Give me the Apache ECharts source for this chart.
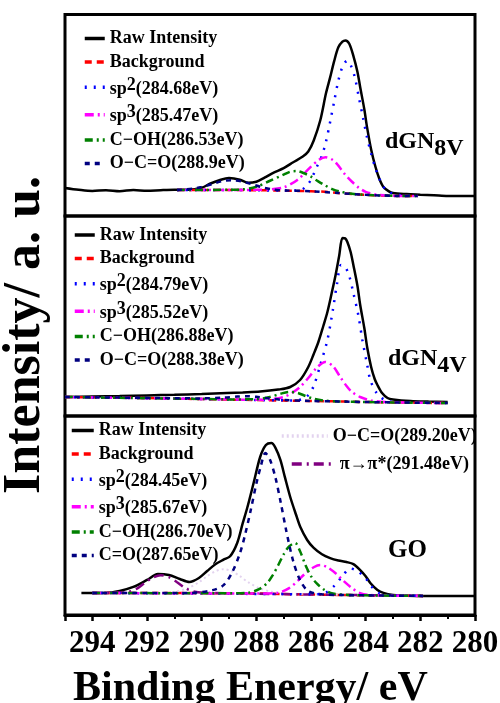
<html>
<head>
    <meta charset="utf-8">
    <title>C1s XPS - dGN8V / dGN4V / GO</title>
    <style>
        body { margin: 0; background: #fff; }
    </style>
</head>
<body>
<div id="xpsChart" style="width: 500px; height: 703px;"></div>
<script type="text/javascript" src="https://cdn.jsdelivr.net/npm/echarts@6/dist/echarts.min.js"></script>
<script type="text/javascript">
    // binding energy axis (eV), reversed
    var energyMin = 280;
    var energyMax = 295;
    var energyStep = 2;

    // ---- dGN8V : [eV, intensity a.u.] ----
    var raw8 = [[295.0, 13.9], [294.5, 13.0], [294.0, 12.4], [293.5, 12.8], [293.0, 12.3], [292.5, 12.9], [292.0, 12.5], [291.5, 12.8], [291.0, 13.0], [290.5, 13.0], [290.0, 14.0], [289.7, 16.0], [289.3, 18.0], [289.0, 18.8], [288.6, 18.0], [288.3, 16.5], [288.0, 17.0], [287.7, 19.0], [287.4, 21.3], [287.0, 23.8], [286.65, 26.7], [286.3, 29.5], [286.1, 32.0], [285.9, 37.5], [285.66, 47.5], [285.45, 61.0], [285.3, 68.8], [285.15, 77.0], [285.0, 83.7], [284.85, 86.5], [284.74, 87.1], [284.6, 85.5], [284.45, 79.5], [284.3, 71.5], [284.2, 63.9], [284.05, 53.0], [283.95, 44.1], [283.8, 33.0], [283.64, 24.3], [283.5, 18.5], [283.35, 14.4], [283.15, 12.2], [283.0, 11.4], [282.5, 10.9], [282.0, 10.6], [281.5, 10.3], [281.0, 9.9], [280.0, 9.9]];
    var bg8 = [[290.9, 12.9], [289.0, 12.9], [288.0, 12.8], [287.0, 12.6], [286.0, 12.3], [285.5, 12.0], [285.0, 11.4], [284.5, 10.9], [284.0, 10.5], [283.5, 10.2], [283.0, 10.0], [282.1, 9.9]];
    var sp2_8 = [[290.9, 12.9], [289.0, 12.9], [287.0, 12.6], [286.4, 12.8], [286.1, 16.0], [285.95, 19.5], [285.8, 24.0], [285.6, 30.0], [285.45, 37.0], [285.3, 46.7], [285.15, 57.0], [285.0, 67.1], [284.85, 74.0], [284.68, 77.0], [284.55, 75.0], [284.4, 69.0], [284.25, 59.0], [284.1, 49.0], [283.95, 39.0], [283.8, 31.0], [283.65, 24.0], [283.5, 18.5], [283.35, 14.5], [283.2, 12.5], [283.0, 11.0], [282.6, 10.2], [282.1, 9.9]];
    var sp3_8 = [[290.9, 12.9], [288.5, 12.9], [288.0, 13.0], [287.5, 13.2], [287.0, 14.2], [286.5, 17.9], [286.0, 24.5], [285.7, 28.0], [285.47, 29.2], [285.2, 27.8], [285.0, 25.0], [284.75, 20.5], [284.5, 17.0], [284.25, 14.0], [284.0, 12.0], [283.6, 10.6], [283.0, 10.0], [282.1, 9.9]];
    var coh8 = [[290.9, 12.9], [289.0, 13.0], [288.5, 13.2], [288.0, 14.5], [287.5, 17.5], [287.0, 20.5], [286.75, 22.0], [286.53, 22.3], [286.25, 21.2], [286.0, 19.5], [285.75, 17.3], [285.5, 15.3], [285.2, 13.2], [284.9, 12.0], [284.5, 11.0], [284.0, 10.5], [283.0, 10.0], [282.1, 9.9]];
    var oco8 = [[290.9, 12.9], [290.3, 13.6], [290.0, 14.4], [289.6, 15.9], [289.25, 17.3], [288.9, 17.8], [288.55, 17.2], [288.2, 15.9], [287.8, 14.3], [287.4, 13.2], [287.0, 12.7], [286.0, 12.3], [285.0, 11.4], [284.0, 10.5], [283.0, 10.0], [282.1, 9.9]];

    // ---- dGN4V ----
    var raw4 = [[295.0, 9.5], [294.0, 9.8], [293.0, 10.0], [292.0, 10.3], [291.0, 10.6], [290.0, 11.0], [289.07, 11.5], [288.5, 11.8], [287.86, 12.2], [287.2, 13.2], [286.76, 14.5], [286.4, 18.0], [286.1, 24.5], [285.9, 31.0], [285.73, 37.0], [285.55, 45.0], [285.4, 52.0], [285.25, 61.0], [285.1, 70.5], [284.97, 80.0], [284.85, 89.0], [284.75, 88.8], [284.67, 87.0], [284.55, 82.0], [284.45, 75.5], [284.3, 65.0], [284.2, 55.5], [284.05, 44.0], [283.94, 34.0], [283.8, 24.5], [283.67, 18.5], [283.57, 15.5], [283.4, 11.5], [283.2, 9.0], [283.0, 8.3], [282.36, 7.5], [281.7, 7.2], [281.0, 7.0]];
    var bg4 = [[295.0, 9.5], [293.5, 9.2], [292.0, 9.0], [290.5, 8.6], [289.0, 8.2], [288.0, 8.0], [287.0, 7.7], [286.0, 7.5], [285.0, 7.3], [284.0, 7.0], [283.0, 6.8], [282.0, 6.6], [281.0, 6.5]];
    var sp2_4 = [[295.0, 9.5], [290.0, 8.5], [288.0, 8.0], [286.6, 7.8], [286.3, 8.5], [286.1, 10.5], [285.9, 15.0], [285.65, 26.0], [285.4, 38.0], [285.2, 53.0], [285.05, 66.0], [284.9, 75.5], [284.75, 74.5], [284.6, 70.0], [284.45, 61.5], [284.27, 50.5], [284.12, 38.0], [283.95, 26.0], [283.83, 18.0], [283.6, 11.5], [283.3, 8.0], [283.0, 7.0], [282.0, 6.6], [281.0, 6.5]];
    var sp3_4 = [[295.0, 9.5], [290.0, 8.5], [289.0, 8.3], [288.0, 8.1], [287.5, 8.3], [287.0, 9.5], [286.7, 11.5], [286.4, 14.5], [286.1, 19.0], [285.8, 24.0], [285.48, 27.0], [285.2, 25.0], [284.93, 19.5], [284.7, 15.0], [284.5, 12.0], [284.2, 9.5], [283.8, 7.8], [283.2, 7.0], [282.0, 6.6], [281.0, 6.5]];
    var coh4 = [[295.0, 9.5], [290.0, 8.5], [289.0, 8.3], [288.0, 8.4], [287.5, 9.5], [287.1, 11.2], [286.8, 12.0], [286.5, 11.6], [286.2, 10.0], [285.9, 8.6], [285.5, 7.7], [285.0, 7.3], [284.0, 7.0], [283.0, 6.8], [281.0, 6.5]];
    var oco4 = [[295.0, 9.5], [291.0, 8.9], [290.0, 8.8], [289.2, 9.2], [288.7, 9.7], [288.38, 9.9], [288.0, 9.6], [287.6, 8.9], [287.0, 8.0], [286.0, 7.5], [285.0, 7.3], [284.0, 7.0], [283.0, 6.8], [281.0, 6.5]];

    // ---- GO ----
    var rawGO = [[294.4, 11.1], [293.5, 11.1], [293.0, 12.1], [292.5, 14.1], [292.0, 17.6], [291.6, 20.6], [291.2, 20.1], [290.8, 18.1], [290.45, 16.6], [290.1, 18.6], [289.8, 22.1], [289.5, 25.5], [289.2, 27.8], [288.96, 29.5], [288.7, 36.2], [288.5, 46.0], [288.33, 54.0], [288.1, 66.3], [287.86, 79.4], [287.65, 85.4], [287.45, 86.4], [287.3, 84.0], [287.12, 77.9], [286.95, 69.0], [286.76, 59.3], [286.55, 50.5], [286.39, 44.2], [286.14, 37.7], [285.9, 33.7], [285.6, 30.5], [285.3, 28.6], [285.0, 27.4], [284.7, 26.6], [284.45, 25.6], [284.2, 22.6], [284.0, 19.5], [283.83, 16.1], [283.57, 12.6], [283.35, 11.1], [283.0, 10.1], [282.5, 9.7], [281.0, 9.5], [280.0, 9.5]];
    var bgGO = [[294.0, 11.1], [292.0, 11.1], [290.0, 11.0], [288.0, 10.8], [287.0, 10.5], [286.0, 10.3], [285.0, 10.1], [284.0, 9.9], [283.0, 9.7], [281.9, 9.6]];
    var sp2GO = [[294.0, 11.1], [287.0, 10.5], [286.0, 10.4], [285.5, 11.0], [285.2, 14.0], [285.0, 17.0], [284.8, 20.5], [284.56, 23.4], [284.3, 22.0], [284.0, 18.5], [283.8, 14.5], [283.5, 11.0], [283.2, 10.0], [281.9, 9.6]];
    var sp3GO = [[294.0, 11.1], [288.0, 10.8], [287.2, 11.2], [286.8, 13.5], [286.5, 17.0], [286.2, 21.0], [285.9, 24.0], [285.66, 25.1], [285.4, 24.0], [285.1, 21.0], [284.8, 17.0], [284.5, 13.5], [284.2, 11.0], [283.8, 10.0], [281.9, 9.6]];
    var cohGO = [[294.0, 11.1], [289.0, 10.9], [288.3, 11.2], [287.9, 13.0], [287.6, 16.1], [287.4, 20.0], [287.2, 25.0], [287.0, 30.5], [286.8, 34.5], [286.58, 36.2], [286.4, 32.0], [286.2, 25.0], [286.0, 19.5], [285.8, 16.0], [285.5, 12.5], [285.2, 10.8], [284.5, 10.0], [281.9, 9.6]];
    var coGO = [[294.0, 11.1], [290.5, 11.0], [289.6, 12.5], [289.2, 15.0], [288.9, 21.0], [288.6, 31.0], [288.4, 41.0], [288.2, 53.0], [288.0, 66.0], [287.85, 74.0], [287.67, 81.4], [287.5, 78.0], [287.3, 69.0], [287.1, 56.0], [286.9, 42.0], [286.65, 27.0], [286.4, 17.5], [286.1, 12.0], [285.6, 10.4], [284.0, 9.9], [281.9, 9.6]];
    var ocoGO = [[294.0, 11.1], [291.5, 11.1], [291.0, 11.6], [290.5, 13.5], [290.1, 16.5], [289.8, 19.5], [289.5, 22.0], [289.2, 23.0], [288.9, 22.0], [288.6, 19.5], [288.3, 16.5], [287.9, 13.5], [287.4, 11.6], [286.8, 10.7], [281.9, 9.6]];
    var piGO = [[294.0, 11.1], [292.8, 11.3], [292.4, 13.0], [292.1, 16.0], [291.8, 18.7], [291.5, 20.0], [291.2, 19.0], [290.9, 16.5], [290.6, 13.5], [290.3, 11.8], [289.8, 11.1], [281.9, 9.6]];

    var font = "'Liberation Serif', 'Times New Roman', serif";

    var sty = {
        raw:  { color: '#000000', width: 2.5, type: 'solid' },
        bg:   { color: '#ff0000', width: 2.5, type: [7, 5] },
        sp2:  { color: '#0000ff', width: 2.5, type: [2, 7] },
        sp3:  { color: '#ff00ff', width: 2.5, type: [9, 4, 2, 4] },
        coh:  { color: '#008000', width: 2.5, type: [8, 4, 2, 4] },
        navy: { color: '#000080', width: 2.5, type: [5, 5] },
        oco:  { color: '#e3d3ef', width: 2, type: [2, 3] },
        pi:   { color: '#800080', width: 2.5, type: [10, 5, 2, 5] }
    };

    function line(name, data, idx, s) {
        return {
            name: name,
            type: 'line',
            xAxisIndex: idx,
            yAxisIndex: idx,
            data: data,
            symbol: 'none',
            showSymbol: false,
            smooth: 0.3,
            silent: true,
            animation: false,
            color: s.color,
            lineStyle: { color: s.color, width: s.width, type: s.type }
        };
    }

    // sp2 / sp3 get a raised digit
    function fmtName(name) {
        var m = name.match(/^sp(\d)(.*)$/);
        if (m) {
            return '{t|sp}{s|' + m[1] + '}{t|' + m[2] + '}';
        }
        return '{t|' + name + '}';
    }

    var legendRich = {
        t: { fontFamily: font, fontWeight: 'bold', fontSize: 18, color: '#000', verticalAlign: 'bottom' },
        s: { fontFamily: font, fontWeight: 'bold', fontSize: 18, color: '#000', verticalAlign: 'top', padding: [0, 0, 4, 0] }
    };

    function legendBox(names, left, top, w) {
        return {
            orient: 'vertical',
            left: left,
            top: top,
            padding: 0,
            itemWidth: w,
            itemHeight: 14,
            itemGap: 5.4,
            selectedMode: false,
            data: names,
            formatter: fmtName,
            textStyle: { fontFamily: font, fontWeight: 'bold', fontSize: 18, color: '#000', rich: legendRich },
            itemStyle: { opacity: 0, borderWidth: 0 },
            lineStyle: { width: 3.5 }
        };
    }

    function grid(top, height) {
        return {
            left: 65, top: top, width: 410, height: height,
            show: true, borderColor: '#000', borderWidth: 3,
            backgroundColor: 'transparent',
            containLabel: false, outerBoundsMode: 'none'
        };
    }

    function xAx(idx, shown) {
        return {
            type: 'value',
            gridIndex: idx,
            min: energyMin,
            max: energyMax,
            interval: energyStep,
            inverse: true,
            axisLine: { show: shown, lineStyle: { color: '#000', width: 3 } },
            axisTick: { show: shown, inside: false, length: 6, lineStyle: { color: '#000', width: 2.5 } },
            minorTick: { show: shown, splitNumber: 2, length: 4, lineStyle: { color: '#000', width: 2 } },
            axisLabel: {
                show: shown, margin: 13, color: '#000',
                fontFamily: font, fontWeight: 'bold', fontSize: 31
            },
            splitLine: { show: false },
            minorSplitLine: { show: false }
        };
    }

    function yAx(idx) {
        return { type: 'value', gridIndex: idx, min: 0, max: 100, show: false, splitLine: { show: false } };
    }

    var panelRich = {
        a: { fontFamily: font, fontWeight: 'bold', fontSize: 24, color: '#000', verticalAlign: 'top' },
        b: { fontFamily: font, fontWeight: 'bold', fontSize: 24, color: '#000', verticalAlign: 'bottom', padding: [7, 0, 0, 0] }
    };

    var myChart = echarts.init(document.getElementById('xpsChart'), null, { renderer: 'canvas' });
    var option = {
        backgroundColor: '#ffffff',
        animation: false,
        grid: [grid(14.5, 201.5), grid(216, 200), grid(416, 199)],
        xAxis: [xAx(0, false), xAx(1, false), xAx(2, true)],
        yAxis: [yAx(0), yAx(1), yAx(2)],
        legend: [
            legendBox(['Raw Intensity', 'Background', 'sp2(284.68eV)', 'sp3(285.47eV)', 'C−OH(286.53eV)', 'O−C=O(288.9eV)'], 83, 29.5, 20),
            legendBox(['Raw Intensity', 'Background', 'sp2(284.79eV)', 'sp3(285.52eV)', 'C−OH(286.88eV)', 'O−C=O(288.38eV)'], 73, 226, 20),
            legendBox(['Raw Intensity', 'Background', 'sp2(284.45eV)', 'sp3(285.67eV)', 'C−OH(286.70eV)', 'C=O(287.65eV)'], 70, 421.5, 22),
            legendBox(['O−C=O(289.20eV)'], 280, 427, 46),
            legendBox(['π→π*(291.48eV)'], 290, 455, 43)
        ],
        series: [
            line('Raw Intensity', raw8, 0, sty.raw),
            line('Background', bg8, 0, sty.bg),
            line('sp2(284.68eV)', sp2_8, 0, sty.sp2),
            line('sp3(285.47eV)', sp3_8, 0, sty.sp3),
            line('C−OH(286.53eV)', coh8, 0, sty.coh),
            line('O−C=O(288.9eV)', oco8, 0, sty.navy),

            line('Raw Intensity', raw4, 1, sty.raw),
            line('Background', bg4, 1, sty.bg),
            line('sp2(284.79eV)', sp2_4, 1, sty.sp2),
            line('sp3(285.52eV)', sp3_4, 1, sty.sp3),
            line('C−OH(286.88eV)', coh4, 1, sty.coh),
            line('O−C=O(288.38eV)', oco4, 1, sty.navy),

            line('Raw Intensity', rawGO, 2, sty.raw),
            line('Background', bgGO, 2, sty.bg),
            line('O−C=O(289.20eV)', ocoGO, 2, sty.oco),
            line('π→π*(291.48eV)', piGO, 2, sty.pi),
            line('sp2(284.45eV)', sp2GO, 2, sty.sp2),
            line('sp3(285.67eV)', sp3GO, 2, sty.sp3),
            line('C−OH(286.70eV)', cohGO, 2, sty.coh),
            line('C=O(287.65eV)', coGO, 2, sty.navy)
        ],
        graphic: [
            { type: 'text', x: 385, y: 130, style: { text: '{a|dGN}{b|8V}', rich: panelRich } },
            { type: 'text', x: 388, y: 347, style: { text: '{a|dGN}{b|4V}', rich: panelRich } },
            { type: 'text', x: 388, y: 538, style: { text: 'GO', fontFamily: font, fontWeight: 'bold', fontSize: 25, fill: '#000' } },
            {
                type: 'text', x: 26, y: 335, rotation: Math.PI / 2,
                style: { text: 'Intensity/ a. u.', fontFamily: font, fontWeight: 'bold', fontSize: 52, fill: '#000', align: 'center', verticalAlign: 'middle' }
            },
            {
                type: 'text', x: 73, y: 668,
                style: { text: 'Binding Energy/ eV', fontFamily: font, fontWeight: 'bold', fontSize: 42, fill: '#000', align: 'left', verticalAlign: 'top' }
            }
        ]
    };
    myChart.setOption(option);
</script>
</body>
</html>
